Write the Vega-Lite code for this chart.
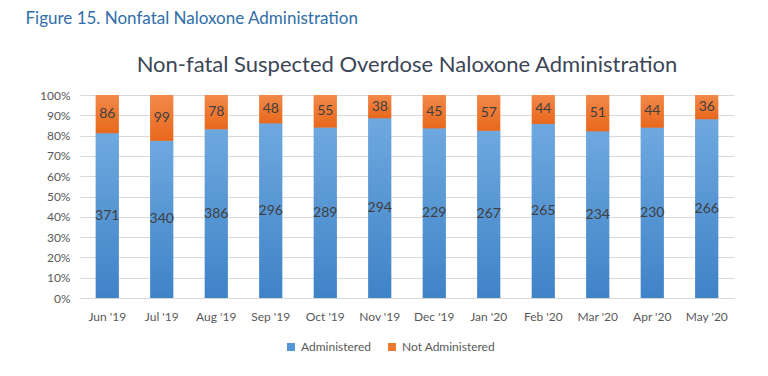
{
  "$schema": "https://vega.github.io/schema/vega-lite/v6.json",
  "background": "white",
  "padding": {"left": 25, "top": 10, "right": 20, "bottom": 5},
  "title": {"text": "Figure 15. Nonfatal Naloxone Administration", "anchor": "start", "fontSize": 17, "font": "Lato", "fontWeight": "normal", "color": "#2f6ea8", "offset": 26, "dx": -14},
  "data": {"values": [
    {"month": "Jun '19", "status": "Administered", "count": 371},
    {"month": "Jun '19", "status": "Not Administered", "count": 86},
    {"month": "Jul '19", "status": "Administered", "count": 340},
    {"month": "Jul '19", "status": "Not Administered", "count": 99},
    {"month": "Aug '19", "status": "Administered", "count": 386},
    {"month": "Aug '19", "status": "Not Administered", "count": 78},
    {"month": "Sep '19", "status": "Administered", "count": 296},
    {"month": "Sep '19", "status": "Not Administered", "count": 48},
    {"month": "Oct '19", "status": "Administered", "count": 289},
    {"month": "Oct '19", "status": "Not Administered", "count": 55},
    {"month": "Nov '19", "status": "Administered", "count": 294},
    {"month": "Nov '19", "status": "Not Administered", "count": 38},
    {"month": "Dec '19", "status": "Administered", "count": 229},
    {"month": "Dec '19", "status": "Not Administered", "count": 45},
    {"month": "Jan '20", "status": "Administered", "count": 267},
    {"month": "Jan '20", "status": "Not Administered", "count": 57},
    {"month": "Feb '20", "status": "Administered", "count": 265},
    {"month": "Feb '20", "status": "Not Administered", "count": 44},
    {"month": "Mar '20", "status": "Administered", "count": 234},
    {"month": "Mar '20", "status": "Not Administered", "count": 51},
    {"month": "Apr '20", "status": "Administered", "count": 230},
    {"month": "Apr '20", "status": "Not Administered", "count": 44},
    {"month": "May '20", "status": "Administered", "count": 266},
    {"month": "May '20", "status": "Not Administered", "count": 36}
  ]},
  "vconcat": [
    {
      "width": 654,
      "height": 203,
      "title": {"text": "Non-fatal Suspected Overdose Naloxone Administration", "anchor": "middle", "fontSize": 22, "font": "Lato", "fontWeight": "normal", "color": "#3b4656", "offset": 12},
      "transform": [
        {"stack": "count", "groupby": ["month"], "sort": [{"field": "status", "order": "ascending"}], "offset": "normalize", "as": ["y0", "y1"]},
        {"calculate": "(datum.y0 + datum.y1) / 2", "as": "ymid"}
      ],
      "encoding": {
        "x": {"field": "month", "type": "nominal", "sort": null, "title": null,
          "scale": {"paddingInner": 0.58, "paddingOuter": 0.29},
          "axis": {"labelAngle": 0, "labelFont": "Lato", "labelFontSize": 12, "labelColor": "#595959", "domainColor": "#d9d9d9", "ticks": false, "labelPadding": 13}}
      },
      "layer": [
        {"mark": {"type": "bar"},
          "encoding": {
            "y": {"field": "y0", "type": "quantitative", "title": null,
              "scale": {"domain": [0, 1]},
              "axis": {"format": ".0%", "values": [0,0.1,0.2,0.3,0.4,0.5,0.6,0.7,0.8,0.9,1], "tickCount": 12, "labelOverlap": false, "labelFont": "Lato", "labelFontSize": 12, "labelColor": "#595959", "domain": false, "ticks": false, "gridColor": "#d9d9d9", "labelPadding": 10}},
            "y2": {"field": "y1"},
            "color": {"field": "status", "type": "nominal", "title": null,
              "scale": {"domain": ["Administered", "Not Administered"], "range": ["#5596d6", "#ec7a30"]},
              "legend": {"orient": "none", "legendX": 205, "legendY": 246, "direction": "horizontal", "symbolType": "square", "symbolSize": 64, "symbolStrokeWidth": 0, "labelFont": "Lato", "labelFontSize": 12, "labelColor": "#595959", "columnPadding": 14}}
          }},
        {"transform": [{"filter": "datum.status === 'Administered'"}],
          "mark": {"type": "bar", "color": {"gradient": "linear", "x1": 0, "y1": 0, "x2": 0, "y2": 1, "stops": [{"offset": 0, "color": "#6ea8df"}, {"offset": 1, "color": "#3f83c7"}]}},
          "encoding": {
            "y": {"field": "y0", "type": "quantitative", "title": null,
              "axis": {"format": ".0%", "values": [0,0.1,0.2,0.3,0.4,0.5,0.6,0.7,0.8,0.9,1], "tickCount": 12, "labelOverlap": false, "labelFont": "Lato", "labelFontSize": 12, "labelColor": "#595959", "domain": false, "ticks": false, "gridColor": "#d9d9d9", "labelPadding": 10}},
            "y2": {"field": "y1"}
          }},
        {"transform": [{"filter": "datum.status === 'Not Administered'"}],
          "mark": {"type": "bar", "color": {"gradient": "linear", "x1": 0, "y1": 0, "x2": 0, "y2": 1, "stops": [{"offset": 0, "color": "#f2894a"}, {"offset": 1, "color": "#e8681c"}]}},
          "encoding": {
            "y": {"field": "y0", "type": "quantitative", "title": null,
              "axis": {"format": ".0%", "values": [0,0.1,0.2,0.3,0.4,0.5,0.6,0.7,0.8,0.9,1], "tickCount": 12, "labelOverlap": false, "labelFont": "Lato", "labelFontSize": 12, "labelColor": "#595959", "domain": false, "ticks": false, "gridColor": "#d9d9d9", "labelPadding": 10}},
            "y2": {"field": "y1"}
          }},
        {"mark": {"type": "text", "font": "Lato", "fontSize": 14, "color": "#404040", "baseline": "middle"},
          "encoding": {
            "y": {"field": "ymid", "type": "quantitative", "title": null,
              "axis": {"format": ".0%", "values": [0,0.1,0.2,0.3,0.4,0.5,0.6,0.7,0.8,0.9,1], "tickCount": 12, "labelOverlap": false, "labelFont": "Lato", "labelFontSize": 12, "labelColor": "#595959", "domain": false, "ticks": false, "gridColor": "#d9d9d9", "labelPadding": 10}},
            "text": {"field": "count", "type": "quantitative"}
          }}
      ]
    }
  ],
  "config": {"view": {"stroke": null}, "axis": {"gridWidth": 1}}
}
